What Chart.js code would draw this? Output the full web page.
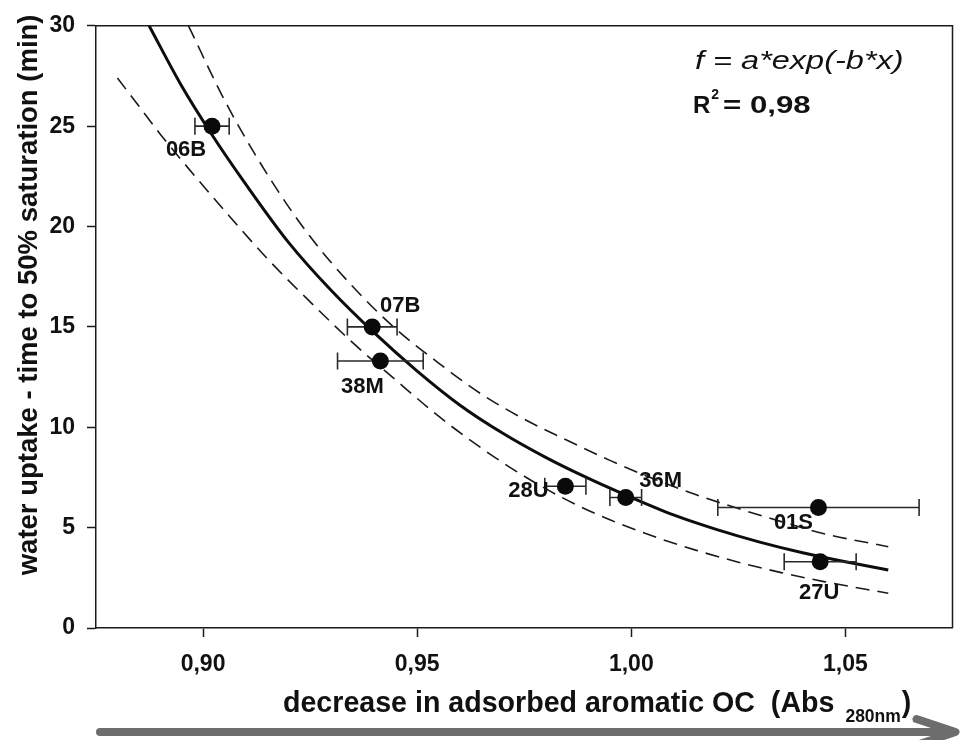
<!DOCTYPE html>
<html>
<head>
<meta charset="utf-8">
<script src="https://cdn.jsdelivr.net/npm/chart.js@4.4.1/dist/chart.umd.min.js"></script>
<style>
  html, body { margin: 0; padding: 0; background: #fff; }
  #wrap { width: 961px; height: 740px; }
</style>
</head>
<body>
<div id="wrap"><canvas id="uptakeChart" width="961" height="740"></canvas></div>
<script>
// samples: decrease in adsorbed aromatic OC vs. time to 50% water saturation
const sampleNames = ['06B', '07B', '38M', '28U', '36M', '01S', '27U'];
const absDecrease = [0.9021, 0.9395, 0.9414, 0.9846, 0.9987, 1.0437, 1.0441];
const halfSatTime = [25.0, 15.0, 13.3, 7.06, 6.5, 6.0, 3.3];
const absError = [0.004, 0.0058, 0.010, 0.0048, 0.0037, 0.0235, 0.0084];

// exponential fit f = a*exp(-b*x)
const fitX = [0.8874, 0.895, 0.902, 0.91, 0.92, 0.93, 0.94, 0.95, 0.96, 0.97, 0.98, 0.99, 1.00, 1.01, 1.02, 1.03, 1.04, 1.05, 1.06];
const fitY = [30.0, 27.0, 24.6, 22.1, 19.2, 16.8, 14.7, 12.8, 11.1, 9.7, 8.5, 7.45, 6.5, 5.62, 4.9, 4.28, 3.75, 3.3, 2.89];

// confidence band
const upperX = [0.8966, 0.905, 0.915, 0.925, 0.935, 0.945, 0.955, 0.965, 0.975, 0.985, 0.995, 1.005, 1.015, 1.025, 1.035, 1.045, 1.06];
const upperY = [30.0, 26.3, 22.6, 19.5, 17.0, 14.9, 13.2, 11.65, 10.4, 9.35, 8.35, 7.45, 6.65, 5.95, 5.3, 4.7, 4.05];
const lowerX = [0.880, 0.885, 0.890, 0.895, 0.905, 0.915, 0.925, 0.935, 0.945, 0.955, 0.965, 0.975, 0.985, 0.995, 1.005, 1.015, 1.025, 1.035, 1.045, 1.060];
const lowerY = [27.4, 26.0, 24.6, 23.3, 20.8, 18.4, 16.25, 14.2, 12.35, 10.55, 8.96, 7.56, 6.37, 5.39, 4.58, 3.88, 3.28, 2.76, 2.31, 1.73];

const xTicks = [0.90, 0.95, 1.00, 1.05];
const yTicks = [0, 5, 10, 15, 20, 25, 30];

// where each sample name sits relative to its marker (px)
const labelShift = [[-26, 24], [28, -21], [-18, 26], [-37, 5], [35, -17], [-25, 15], [-1, 31]];

const FONT = '"Liberation Sans", Arial, sans-serif';
const INK = '#111';

function toPoints(xs, ys) {
  return xs.map((x, i) => ({ x: x, y: ys[i] }));
}

const overlay = {
  id: 'overlay',
  beforeDatasetDraw(chart, args) {
    if (args.index !== 0) return;
    const { ctx, scales: { x, y } } = chart;
    ctx.save();
    ctx.strokeStyle = '#2a2a2a';
    ctx.lineWidth = 1.6;
    absDecrease.forEach((v, i) => {
      const x0 = x.getPixelForValue(v - absError[i]);
      const x1 = x.getPixelForValue(v + absError[i]);
      const py = y.getPixelForValue(halfSatTime[i]);
      ctx.beginPath();
      ctx.moveTo(x0, py); ctx.lineTo(x1, py);
      ctx.moveTo(x0, py - 8.5); ctx.lineTo(x0, py + 8.5);
      ctx.moveTo(x1, py - 8.5); ctx.lineTo(x1, py + 8.5);
      ctx.stroke();
    });
    ctx.restore();
  },
  afterDraw(chart) {
    const { ctx, chartArea: a } = chart;
    ctx.save();

    // top and right frame
    ctx.strokeStyle = '#1a1a1a';
    ctx.lineWidth = 1.5;
    ctx.beginPath();
    ctx.moveTo(a.left, a.top); ctx.lineTo(a.right, a.top); ctx.lineTo(a.right, a.bottom);
    ctx.stroke();

    // sample names
    ctx.fillStyle = INK;
    ctx.font = 'bold 22px ' + FONT;
    ctx.textAlign = 'center';
    ctx.textBaseline = 'middle';
    chart.getDatasetMeta(0).data.forEach((pt, i) => {
      ctx.fillText(sampleNames[i], pt.x + labelShift[i][0], pt.y + labelShift[i][1]);
    });

    // fit equation
    ctx.textAlign = 'left';
    ctx.textBaseline = 'alphabetic';
    ctx.save();
    ctx.translate(a.left + 599, a.top + 43);
    ctx.scale(1.3, 1);
    ctx.font = 'italic 25px ' + FONT;
    ctx.fillText('f = a*exp(-b*x)', 0, 0);
    ctx.restore();

    ctx.font = 'bold 24px ' + FONT;
    ctx.fillText('R', a.left + 597, a.top + 87);
    const rEnd = a.left + 597 + ctx.measureText('R').width;
    ctx.font = 'bold 14px ' + FONT;
    ctx.fillText('2', rEnd + 1, a.top + 73);
    ctx.save();
    ctx.translate(a.left + 627, a.top + 87);
    ctx.scale(1.3, 1);
    ctx.font = 'bold 24px ' + FONT;
    ctx.fillText('= 0,98', 0, 0);
    ctx.restore();

    // y axis title
    ctx.save();
    ctx.translate(a.left - 59, (a.top + a.bottom) / 2 - 32);
    ctx.rotate(-Math.PI / 2);
    ctx.textAlign = 'center';
    ctx.font = 'bold 27.5px ' + FONT;
    ctx.fillText('water uptake - time to 50% saturation (min)', 0, 0);
    ctx.restore();

    // x axis title with subscript
    const tx = a.left + 187;
    const ty = a.bottom + 84;
    ctx.font = 'bold 28.6px ' + FONT;
    const main = 'decrease in adsorbed aromatic OC  (Abs';
    ctx.fillText(main, tx, ty);
    const subX = tx + ctx.measureText(main).width + 11;
    ctx.font = 'bold 17.5px ' + FONT;
    ctx.fillText('280nm', subX, ty + 10);
    const closeX = subX + ctx.measureText('280nm').width + 1;
    ctx.font = 'bold 28.6px ' + FONT;
    ctx.fillText(')', closeX, ty);

    // direction arrow under the axis
    ctx.strokeStyle = '#6d6d6d';
    ctx.lineWidth = 8;
    ctx.lineCap = 'round';
    ctx.lineJoin = 'round';
    ctx.beginPath();
    ctx.moveTo(a.left + 4, a.bottom + 104);
    ctx.lineTo(a.right, a.bottom + 104);
    ctx.stroke();
    ctx.beginPath();
    ctx.moveTo(a.right - 36, a.bottom + 91);
    ctx.lineTo(a.right + 3, a.bottom + 104);
    ctx.lineTo(a.right - 36, a.bottom + 117);
    ctx.stroke();

    ctx.restore();
  }
};

const ctx = document.getElementById('uptakeChart').getContext('2d');

new Chart(ctx, {
  type: 'scatter',
  data: {
    datasets: [
      {
        label: 'samples',
        data: toPoints(absDecrease, halfSatTime),
        pointRadius: 8.5,
        pointHoverRadius: 8.5,
        backgroundColor: '#0a0a0a',
        borderColor: '#0a0a0a',
        borderWidth: 0,
        showLine: false
      },
      {
        label: 'fit',
        data: toPoints(fitX, fitY),
        showLine: true,
        pointRadius: 0,
        borderColor: '#0d0d0d',
        borderWidth: 3,
        cubicInterpolationMode: 'monotone'
      },
      {
        label: 'upper',
        data: toPoints(upperX, upperY),
        showLine: true,
        pointRadius: 0,
        borderColor: '#1a1a1a',
        borderWidth: 1.6,
        borderDash: [14, 8],
        cubicInterpolationMode: 'monotone'
      },
      {
        label: 'lower',
        data: toPoints(lowerX, lowerY),
        showLine: true,
        pointRadius: 0,
        borderColor: '#1a1a1a',
        borderWidth: 1.6,
        borderDash: [14, 8],
        cubicInterpolationMode: 'monotone'
      }
    ]
  },
  options: {
    responsive: false,
    animation: false,
    layout: { padding: { left: 0, top: 25, right: 3, bottom: 0 } },
    plugins: {
      legend: { display: false },
      tooltip: { enabled: false }
    },
    scales: {
      x: {
        type: 'linear',
        min: 0.875,
        max: 1.075,
        afterFit(scale) { scale.height = 112; },
        afterBuildTicks(scale) { scale.ticks = xTicks.map(v => ({ value: v })); },
        grid: { drawOnChartArea: false, drawTicks: true, tickLength: 9, tickWidth: 1.5, tickColor: '#1a1a1a' },
        border: { display: true, color: '#1a1a1a', width: 1.5 },
        ticks: {
          padding: 14,
          maxRotation: 0,
          color: INK,
          font: { family: FONT, size: 23, weight: 'bold' },
          callback: v => v.toFixed(2).replace('.', ',')
        }
      },
      y: {
        type: 'linear',
        min: 0,
        max: 30,
        afterFit(scale) { scale.width = 96; },
        afterBuildTicks(scale) { scale.ticks = yTicks.map(v => ({ value: v })); },
        grid: { drawOnChartArea: false, drawTicks: true, tickLength: 9, tickWidth: 1.5, tickColor: '#1a1a1a' },
        border: { display: true, color: '#1a1a1a', width: 1.5 },
        ticks: {
          padding: 12,
          color: INK,
          font: { family: FONT, size: 23, weight: 'bold' },
          callback: v => v
        }
      }
    }
  },
  plugins: [overlay]
});
</script>
</body>
</html>
